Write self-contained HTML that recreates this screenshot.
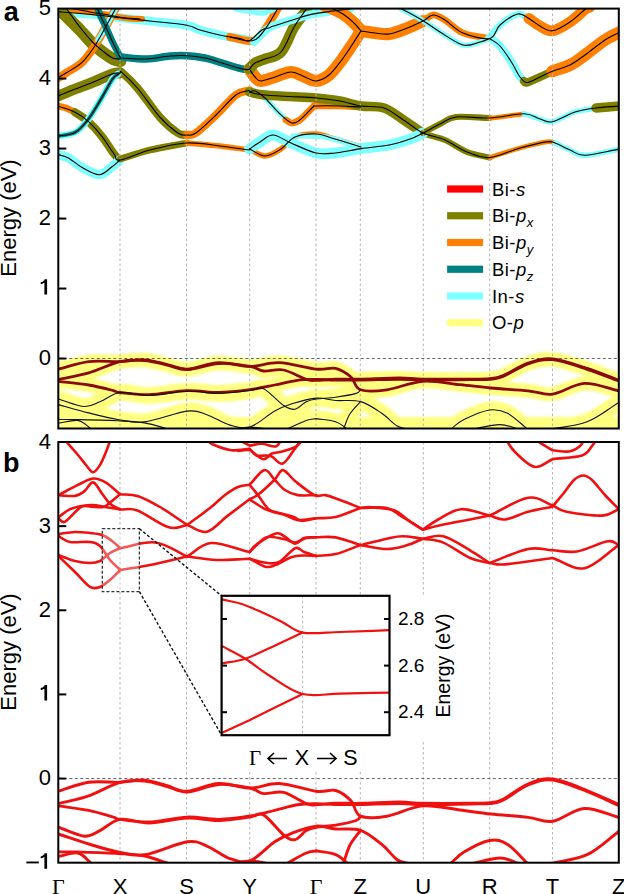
<!DOCTYPE html><html><head><meta charset="utf-8"><style>
html,body{margin:0;padding:0;background:#fff;width:624px;height:894px;overflow:hidden}
svg{display:block}
.t{font-family:"Liberation Sans",sans-serif;font-size:22px;fill:#000}
.g{font-family:"Liberation Serif",serif;font-size:22px}
.lab{font-family:"Liberation Sans",sans-serif;font-size:27px;font-weight:bold;fill:#000}
.ax{font-family:"Liberation Sans",sans-serif;font-size:22px;fill:#000}
.lg{font-family:"Liberation Sans",sans-serif;font-size:18.5px;letter-spacing:0.45px;fill:#000}
.i{font-style:italic}
.sub{font-size:13px}
.it{font-family:"Liberation Sans",sans-serif;font-size:19px;fill:#000}
.iax{font-family:"Liberation Sans",sans-serif;font-size:19.5px;fill:#000}
.iax2{font-family:"Liberation Sans",sans-serif;font-size:21.5px;fill:#000}
.ig{font-family:"Liberation Serif",serif;font-size:21px;fill:#000}
</style></head><body><svg width="624" height="894" viewBox="0 0 624 894">

<defs>
<clipPath id="ca"><rect x="58.3" y="8.6" width="560.5" height="419.9"/></clipPath>
<clipPath id="cb"><rect x="58.3" y="442.0" width="560.5" height="420.70000000000005"/></clipPath>
<clipPath id="ci"><rect x="221.6" y="595.8" width="167.9" height="139.4"/></clipPath>
<filter id="yb" x="-5%" y="-20%" width="110%" height="140%"><feGaussianBlur stdDeviation="1.2"/></filter>
</defs>
<line x1="120.0" y1="442.0" x2="120.0" y2="862.7" stroke="#b4b4b4" stroke-width="1" stroke-dasharray="2.5,2.5"/>
<line x1="186.5" y1="442.0" x2="186.5" y2="862.7" stroke="#b4b4b4" stroke-width="1" stroke-dasharray="2.5,2.5"/>
<line x1="249.7" y1="442.0" x2="249.7" y2="862.7" stroke="#b4b4b4" stroke-width="1" stroke-dasharray="2.5,2.5"/>
<line x1="316.0" y1="442.0" x2="316.0" y2="862.7" stroke="#b4b4b4" stroke-width="1" stroke-dasharray="2.5,2.5"/>
<line x1="360.3" y1="442.0" x2="360.3" y2="862.7" stroke="#b4b4b4" stroke-width="1" stroke-dasharray="2.5,2.5"/>
<line x1="423.3" y1="442.0" x2="423.3" y2="862.7" stroke="#b4b4b4" stroke-width="1" stroke-dasharray="2.5,2.5"/>
<line x1="489.7" y1="442.0" x2="489.7" y2="862.7" stroke="#b4b4b4" stroke-width="1" stroke-dasharray="2.5,2.5"/>
<line x1="552.5" y1="442.0" x2="552.5" y2="862.7" stroke="#b4b4b4" stroke-width="1" stroke-dasharray="2.5,2.5"/>
<line x1="58.3" y1="778.5600000000001" x2="618.8" y2="778.5600000000001" stroke="#666" stroke-width="1" stroke-dasharray="3,2.5"/>
<g clip-path="url(#ca)"><g filter="url(#yb)"><rect x="53.3" y="417" width="570.5" height="16" fill="#ffff80"/><path d="M58.3,369.1 C68.4,366.6 78.4,362.9 88.7,361.6 C99.0,360.4 110.7,361.9 120.0,361.6 C129.3,361.3 136.8,359.3 144.7,359.8 C152.6,360.3 160.1,362.9 167.2,364.5 C174.3,366.0 178.6,369.4 187.2,369.1 C195.8,368.8 208.2,363.1 218.7,362.6 C229.2,362.2 239.9,366.4 250.0,366.4 C260.1,366.4 268.1,362.2 279.2,362.6 C290.2,363.1 306.9,368.1 316.3,369.1 C325.7,370.1 329.8,367.1 335.6,368.4 C341.4,369.8 346.9,373.5 351.0,377.0 C355.1,380.6 354.5,387.7 360.5,389.8 C366.5,392.0 376.5,391.3 386.9,389.8 C397.3,388.4 410.6,382.1 422.8,381.3 C435.0,380.4 448.6,383.5 460.0,384.7 C471.4,385.8 479.6,387.0 491.0,388.0 C502.4,389.0 517.9,389.8 528.1,390.8 C538.4,391.8 543.1,395.3 552.5,394.1 C561.9,392.8 573.5,384.0 584.5,383.4 C595.5,382.9 607.4,388.4 618.8,390.8" fill="none" stroke="#ffff80" stroke-width="14" stroke-linecap="round" stroke-linejoin="round"/><path d="M58.3,379.4 C68.4,377.2 78.4,375.8 88.7,372.9 C99.0,369.9 110.7,363.7 120.0,361.6 C129.3,359.6 136.8,360.0 144.7,360.5 C152.6,361.1 160.1,363.6 167.2,365.1 C174.3,366.6 178.6,370.0 187.2,369.7 C195.8,369.4 208.2,364.0 218.7,363.5 C229.2,362.9 242.5,365.1 250.0,366.4 C257.5,367.6 257.9,370.4 263.5,371.0 C269.1,371.6 276.6,368.6 283.7,370.0 C290.8,371.4 300.8,377.7 306.2,379.4 C311.6,381.1 311.4,380.4 316.3,380.3 C321.2,380.3 328.2,379.3 335.6,379.1 C343.0,378.9 349.8,379.3 360.5,379.1 C371.2,378.9 389.3,378.0 399.7,378.0 C410.1,378.0 411.1,378.9 422.8,379.1 C434.5,379.3 458.9,379.2 470.0,379.1 C481.1,379.0 484.2,379.2 489.6,378.7 C495.0,378.2 496.1,378.5 502.5,375.9 C508.9,373.3 519.8,366.0 528.1,363.1 C536.4,360.3 542.7,358.0 552.5,358.9 C562.3,359.8 576.1,364.9 587.1,368.4 C598.1,372.0 608.2,376.3 618.8,380.2" fill="none" stroke="#ffff80" stroke-width="14" stroke-linecap="round" stroke-linejoin="round"/><path d="M58.3,381.3 C68.4,382.5 79.5,383.4 88.7,385.0 C97.9,386.6 108.1,389.3 113.3,390.6 C118.5,391.8 114.0,391.8 120.0,392.5 C126.0,393.2 138.0,395.0 149.2,394.6 C160.4,394.3 175.6,390.9 187.2,390.6 C198.8,390.2 208.2,392.6 218.7,392.5 C229.2,392.3 240.7,390.9 250.0,389.7 C259.3,388.4 266.8,386.6 274.7,385.0 C282.6,383.4 290.3,381.3 297.2,380.3 C304.1,379.4 309.9,379.5 316.3,379.4 C322.7,379.4 328.2,380.0 335.6,380.1 C343.0,380.2 349.8,380.2 360.5,380.1 C371.2,380.0 389.3,379.3 399.7,379.3 C410.1,379.3 411.1,380.0 422.8,380.1 C434.5,380.2 458.9,379.8 470.0,379.7 C481.1,379.5 484.2,379.7 489.6,379.3 C495.0,378.8 496.1,379.3 502.5,376.8 C508.9,374.2 519.8,366.7 528.1,363.9 C536.4,361.0 542.7,358.8 552.5,359.7 C562.3,360.6 576.1,365.7 587.1,369.3 C598.1,372.8 608.2,377.1 618.8,381.0" fill="none" stroke="#ffff80" stroke-width="14" stroke-linecap="round" stroke-linejoin="round"/><path d="M58.3,399.0 C66.9,401.5 77.3,406.0 84.2,406.5 C91.1,406.9 93.9,404.1 99.9,401.8 C105.9,399.5 111.8,393.5 120.0,392.5 C128.2,391.4 138.0,395.7 149.2,395.5 C160.4,395.3 175.6,391.7 187.2,391.3 C198.8,391.0 208.2,393.5 218.7,393.4 C229.2,393.3 242.5,391.3 250.0,390.5 C257.5,389.7 257.9,386.2 263.5,388.7 C269.1,391.2 278.4,402.0 283.7,405.5 C288.9,408.9 291.2,409.9 295.0,409.3 C298.8,408.7 302.6,403.5 306.2,401.8 C309.8,400.1 311.4,399.7 316.3,399.0 C321.2,398.2 329.0,398.2 335.6,397.2 C342.2,396.3 352.1,394.6 356.2,393.4 C360.3,392.2 359.1,391.0 360.5,389.8" fill="none" stroke="#ffff80" stroke-width="17" stroke-linecap="round" stroke-linejoin="round"/><path d="M58.3,404.6 C68.4,407.4 78.8,410.5 88.7,412.9 C98.6,415.4 108.5,418.0 117.8,419.5 C127.1,421.0 133.1,423.3 144.7,421.9 C156.3,420.5 176.8,412.3 187.2,411.1 C197.6,409.9 200.3,412.5 207.4,414.9 C214.5,417.2 222.8,423.1 229.9,425.1 C237.0,427.1 242.5,429.3 250.0,427.0 C257.5,424.7 267.6,415.0 274.7,411.1 C281.8,407.2 285.8,405.8 292.7,403.6 C299.6,401.5 309.1,398.6 316.3,398.1 C323.5,397.5 328.2,399.9 335.6,400.5 C343.0,401.1 352.8,399.4 360.5,401.6 C368.2,403.7 375.7,409.2 381.8,413.3 C387.9,417.4 392.5,423.3 397.2,426.0 C401.9,428.7 405.7,428.4 410.0,429.6" fill="none" stroke="#ffff80" stroke-width="17" stroke-linecap="round" stroke-linejoin="round"/><path d="M58.3,419.5 C64.7,419.5 67.5,419.4 77.4,419.6 C87.3,419.8 106.6,420.3 117.8,420.8 C129.0,421.4 136.0,421.5 144.7,422.9 C153.4,424.4 161.6,427.4 170.0,429.6" fill="none" stroke="#ffff80" stroke-width="17" stroke-linecap="round" stroke-linejoin="round"/><path d="M58.3,423.3 C64.7,422.3 72.3,419.8 77.4,420.4 C82.5,421.1 86.3,425.2 88.7,427.0 C91.1,428.8 90.9,429.8 92.0,431.2" fill="none" stroke="#ffff80" stroke-width="17" stroke-linecap="round" stroke-linejoin="round"/><path d="M343.3,429.6 C345.5,424.3 347.1,418.4 350.0,413.8 C352.9,409.1 357.0,405.6 360.5,401.6" fill="none" stroke="#ffff80" stroke-width="17" stroke-linecap="round" stroke-linejoin="round"/><path d="M316.3,418.6 C322.7,419.7 330.2,419.9 335.6,421.8 C341.0,423.6 344.2,427.0 348.5,429.6" fill="none" stroke="#ffff80" stroke-width="17" stroke-linecap="round" stroke-linejoin="round"/><path d="M286.0,429.6 C292.7,426.5 301.1,422.3 306.2,420.4 C311.2,418.6 312.9,419.2 316.3,418.6" fill="none" stroke="#ffff80" stroke-width="17" stroke-linecap="round" stroke-linejoin="round"/><path d="M450.0,429.6 C454.7,426.3 457.4,422.9 464.0,419.6 C470.6,416.3 482.3,411.1 489.6,410.0 C496.9,409.0 501.2,410.0 507.6,413.3 C514.0,416.5 521.3,424.1 528.1,429.6" fill="none" stroke="#ffff80" stroke-width="17" stroke-linecap="round" stroke-linejoin="round"/><path d="M548.6,429.6 C561.4,427.0 575.4,426.3 587.1,421.8 C598.8,417.3 608.2,409.0 618.8,402.5" fill="none" stroke="#ffff80" stroke-width="17" stroke-linecap="round" stroke-linejoin="round"/><path d="M470.0,429.6 C480.0,427.9 491.7,424.6 500.0,424.6 C508.3,424.6 513.3,427.9 520.0,429.6" fill="none" stroke="#ffff80" stroke-width="17" stroke-linecap="round" stroke-linejoin="round"/><path d="M230.0,429.6 C236.7,428.7 243.3,427.1 250.0,427.1 C256.7,427.1 263.3,428.7 270.0,429.6" fill="none" stroke="#ffff80" stroke-width="17" stroke-linecap="round" stroke-linejoin="round"/></g><path d="M56.0,11.5 C64.2,12.2 72.2,12.8 80.6,13.5 C89.0,14.2 99.7,15.3 106.3,16.0 C112.9,16.7 112.7,17.0 120.0,17.8 C127.3,18.6 138.9,19.8 150.0,21.0 C161.1,22.2 178.5,23.7 186.8,25.2 C195.1,26.7 194.1,28.3 200.0,30.0 C205.9,31.7 215.3,34.1 222.0,35.5 C228.7,36.9 235.4,37.7 240.0,38.5 C244.6,39.3 246.4,39.8 249.6,40.5" fill="none" stroke="#80ffff" stroke-width="8.775" stroke-linecap="round" stroke-linejoin="round"/><path d="M72.0,9.5 C78.0,10.3 84.3,11.2 90.0,12.0 C95.7,12.8 101.0,13.6 106.3,14.5 C111.6,15.4 116.9,16.8 121.7,17.5 C126.5,18.2 131.6,18.8 135.0,19.0 C138.4,19.2 139.7,19.0 142.0,19.0" fill="none" stroke="#ff8000" stroke-width="6.075" stroke-linecap="round" stroke-linejoin="round"/><path d="M64.0,14.0 C64.8,14.8 63.7,13.7 66.5,16.5 C69.3,19.3 76.1,25.9 80.6,30.6 C85.1,35.3 89.6,41.0 93.5,44.7 C97.4,48.4 100.8,50.6 104.0,53.0 C107.2,55.4 110.0,57.5 112.7,58.8 C115.4,60.1 117.8,60.3 120.4,61.0" fill="none" stroke="#808000" stroke-width="12.15" stroke-linecap="round" stroke-linejoin="round"/><path d="M56.0,79.5 C59.3,77.3 61.7,75.8 66.0,73.0 C70.3,70.2 77.2,66.9 81.8,62.7 C86.4,58.5 89.8,53.4 93.5,48.0 C97.2,42.6 101.0,35.4 103.7,30.6 C106.5,25.8 108.0,22.8 110.0,19.0 C112.0,15.2 114.0,11.7 116.0,8.0" fill="none" stroke="#ff8000" stroke-width="8.100000000000001" stroke-linecap="round" stroke-linejoin="round"/><path d="M98.0,40.0 C99.9,36.9 101.7,34.1 103.7,30.6 C105.7,27.1 108.0,22.8 110.0,19.0 C112.0,15.2 114.0,11.7 116.0,8.0" fill="none" stroke="#80ffff" stroke-width="5.4" stroke-linecap="round" stroke-linejoin="round"/><path d="M97.3,8.0 C98.5,11.0 99.5,13.7 101.0,17.0 C102.5,20.3 104.3,23.8 106.3,28.0 C108.2,32.2 110.3,37.4 112.7,42.2 C115.1,47.0 117.8,52.1 120.4,57.0" fill="none" stroke="#008080" stroke-width="6.75" stroke-linecap="round" stroke-linejoin="round"/><path d="M120.4,57.0 C128.9,57.7 137.7,59.2 146.0,59.0 C154.3,58.8 163.2,56.5 170.0,56.0 C176.8,55.5 181.2,55.4 187.0,55.7 C192.8,56.0 199.8,57.0 205.0,58.0 C210.2,59.0 211.8,59.9 218.0,61.7 C224.2,63.5 236.7,67.6 242.0,68.9 C247.3,70.2 247.1,69.3 249.6,69.5" fill="none" stroke="#80ffff" stroke-width="6.75" stroke-linecap="round" stroke-linejoin="round"/><path d="M120.4,57.0 C128.9,57.7 137.7,59.2 146.0,59.0 C154.3,58.8 163.2,56.5 170.0,56.0 C176.8,55.5 181.2,55.4 187.0,55.7 C192.8,56.0 199.8,57.0 205.0,58.0 C210.2,59.0 211.8,59.9 218.0,61.7 C224.2,63.5 236.7,67.6 242.0,68.9 C247.3,70.2 247.1,69.3 249.6,69.5" fill="none" stroke="#008080" stroke-width="7.425000000000001" stroke-linecap="round" stroke-linejoin="round"/><path d="M56.0,97.0 C60.7,95.0 64.6,93.2 70.0,91.0 C75.4,88.8 82.7,86.4 88.5,84.1 C94.3,81.8 100.8,78.8 105.0,77.0 C109.2,75.2 111.5,74.1 114.0,73.4 C116.5,72.7 118.0,73.1 120.0,73.0" fill="none" stroke="#808000" stroke-width="10.8" stroke-linecap="round" stroke-linejoin="round"/><path d="M120.0,73.0 C120.6,72.8 118.8,69.8 121.7,72.3 C124.6,74.8 131.0,80.5 137.4,88.0 C143.8,95.5 153.2,109.7 159.9,117.2 C166.6,124.7 173.3,130.0 177.8,133.0 C182.3,136.0 183.8,134.3 186.8,135.0" fill="none" stroke="#808000" stroke-width="8.100000000000001" stroke-linecap="round" stroke-linejoin="round"/><path d="M186.8,135.0 C189.8,134.3 190.9,136.3 195.8,133.0 C200.7,129.7 209.3,121.4 216.0,115.0 C222.7,108.6 230.6,98.8 236.2,94.7 C241.8,90.6 245.1,91.8 249.6,90.3" fill="none" stroke="#ff8000" stroke-width="8.100000000000001" stroke-linecap="round" stroke-linejoin="round"/><path d="M56.0,105.6 C59.3,106.4 62.8,106.9 66.0,108.0 C69.2,109.1 72.1,110.9 75.1,112.3" fill="none" stroke="#ff8000" stroke-width="6.75" stroke-linecap="round" stroke-linejoin="round"/><path d="M75.1,112.3 C79.6,115.4 84.0,117.7 88.5,121.7 C93.0,125.7 97.7,131.0 101.9,136.4 C106.2,141.8 111.0,150.0 114.0,153.9 C117.0,157.8 118.0,158.0 120.0,160.0" fill="none" stroke="#808000" stroke-width="8.100000000000001" stroke-linecap="round" stroke-linejoin="round"/><path d="M56.0,136.4 C62.4,135.1 69.7,135.3 75.1,132.4 C80.5,129.5 84.0,124.8 88.5,119.0 C93.0,113.2 97.9,104.2 101.9,97.5 C105.9,90.8 110.0,82.7 112.7,78.8 C115.4,74.9 116.2,75.6 118.0,74.0" fill="none" stroke="#80ffff" stroke-width="6.75" stroke-linecap="round" stroke-linejoin="round"/><path d="M56.0,136.4 C62.4,135.1 69.7,135.3 75.1,132.4 C80.5,129.5 84.0,124.8 88.5,119.0 C93.0,113.2 97.9,104.2 101.9,97.5 C105.9,90.8 110.0,82.7 112.7,78.8 C115.4,74.9 116.2,75.6 118.0,74.0" fill="none" stroke="#008080" stroke-width="3.5100000000000002" stroke-linecap="round" stroke-linejoin="round"/><path d="M56.0,154.0 C60.1,155.3 64.1,155.7 68.4,157.9 C72.7,160.1 76.7,164.5 81.8,167.3 C86.9,170.1 94.4,174.7 99.3,174.7 C104.2,174.7 107.8,169.8 111.3,167.3 C114.8,164.9 117.1,162.4 120.0,160.0" fill="none" stroke="#80ffff" stroke-width="9.450000000000001" stroke-linecap="round" stroke-linejoin="round"/><path d="M120.0,159.0 C130.0,156.0 138.9,152.7 150.0,150.0 C161.1,147.3 174.5,145.3 186.8,143.0" fill="none" stroke="#808000" stroke-width="6.75" stroke-linecap="round" stroke-linejoin="round"/><path d="M186.8,143.0 C197.9,144.0 209.5,144.8 220.0,146.0 C230.5,147.2 239.7,148.7 249.6,150.0" fill="none" stroke="#ff8000" stroke-width="5.4" stroke-linecap="round" stroke-linejoin="round"/><path d="M249.4,69.0 C251.3,71.7 253.1,75.0 255.0,77.0 C256.9,79.0 257.7,81.0 261.0,81.0 C264.3,81.0 270.0,78.5 275.0,77.0 C280.0,75.5 286.0,72.0 291.0,72.0 C296.0,72.0 300.8,75.5 305.0,77.0 C309.2,78.5 312.1,81.3 316.1,81.0 C320.1,80.7 324.9,78.3 329.0,75.0 C333.1,71.7 337.2,66.0 341.0,61.0 C344.8,56.0 348.7,50.0 352.0,45.0 C355.3,40.0 358.0,35.7 361.0,31.0 C365.7,31.7 370.3,32.5 375.0,33.0 C379.7,33.5 384.0,34.7 389.0,34.0 C394.0,33.3 399.3,31.2 405.0,29.0 C410.7,26.8 417.0,23.7 423.0,21.0" fill="none" stroke="#ff8000" stroke-width="12.15" stroke-linecap="round" stroke-linejoin="round"/><path d="M405.0,29.0 C411.0,26.3 418.3,23.3 423.0,21.0 C427.7,18.7 429.3,15.2 433.0,15.0 C436.7,14.8 440.0,17.0 445.0,20.0 C450.0,23.0 455.6,29.9 463.0,33.0 C470.4,36.1 480.7,36.7 489.6,38.5" fill="none" stroke="#ff8000" stroke-width="6.75" stroke-linecap="round" stroke-linejoin="round"/><path d="M249.4,69.0 C251.3,67.0 252.4,64.7 255.0,63.0 C257.6,61.3 260.7,60.8 265.0,59.0 C269.3,57.2 276.1,57.3 281.0,52.0 C285.9,46.7 289.8,34.0 294.1,27.0 C298.4,20.0 302.7,15.5 307.0,9.8" fill="none" stroke="#808000" stroke-width="10.8" stroke-linecap="round" stroke-linejoin="round"/><path d="M230.0,37.0 C236.4,38.3 244.4,41.0 249.2,41.0 C254.0,41.0 255.6,39.8 258.8,37.0 C262.0,34.2 265.3,29.0 268.5,24.2 C271.7,19.4 274.8,13.4 278.0,8.0" fill="none" stroke="#ff8000" stroke-width="8.100000000000001" stroke-linecap="round" stroke-linejoin="round"/><path d="M254.0,41.9 C259.3,37.1 263.3,31.1 270.0,27.4 C276.7,23.6 287.4,21.5 294.1,19.4 C300.8,17.3 304.1,15.9 310.1,14.6 C316.1,13.3 323.4,12.3 330.0,11.4 C336.6,10.5 343.3,9.8 350.0,9.0" fill="none" stroke="#80ffff" stroke-width="8.100000000000001" stroke-linecap="round" stroke-linejoin="round"/><path d="M236.0,9.0 C244.7,10.3 255.5,13.0 262.0,13.0 C268.5,13.0 270.7,10.3 275.0,9.0" fill="none" stroke="#80ffff" stroke-width="5.4" stroke-linecap="round" stroke-linejoin="round"/><path d="M249.4,92.0 C251.3,91.7 252.4,90.0 255.0,91.0 C257.6,92.0 261.0,94.3 265.0,98.0 C269.0,101.7 274.5,108.8 279.0,113.0 C283.5,117.2 288.3,122.0 292.0,123.0 C295.7,124.0 297.5,121.7 301.0,119.0 C304.5,116.3 310.5,109.2 313.0,107.0 C315.5,104.8 311.6,106.2 316.1,106.0 C320.6,105.8 332.5,105.8 340.0,106.0 C347.5,106.2 354.0,106.7 361.0,107.0" fill="none" stroke="#80ffff" stroke-width="5.4" stroke-linecap="round" stroke-linejoin="round"/><path d="M286.0,120.0 C288.0,121.0 289.5,123.2 292.0,123.0 C294.5,122.8 297.5,121.7 301.0,119.0 C304.5,116.3 310.5,109.2 313.0,107.0 C315.5,104.8 311.6,106.2 316.1,106.0 C320.6,105.8 332.5,105.8 340.0,106.0 C347.5,106.2 354.0,106.7 361.0,107.0" fill="none" stroke="#ff8000" stroke-width="6.75" stroke-linecap="round" stroke-linejoin="round"/><path d="M249.4,92.0 C253.6,92.9 255.2,94.0 262.0,94.7 C268.8,95.5 280.9,96.0 290.0,96.5 C299.1,97.0 308.0,97.2 316.3,98.0 C324.6,98.8 332.6,99.7 340.0,101.0 C347.4,102.3 353.7,104.8 361.0,106.0 C368.3,107.2 376.7,105.5 384.0,108.0 C391.3,110.5 398.5,116.8 405.0,121.0 C411.5,125.2 417.0,129.0 423.0,133.0" fill="none" stroke="#808000" stroke-width="9.450000000000001" stroke-linecap="round" stroke-linejoin="round"/><path d="M405.0,121.0 C411.0,125.0 416.3,129.8 423.0,133.0 C429.7,136.2 437.7,136.8 445.0,140.0 C452.3,143.2 459.6,149.1 467.0,152.0 C474.4,154.9 482.1,155.7 489.6,157.6" fill="none" stroke="#808000" stroke-width="6.075" stroke-linecap="round" stroke-linejoin="round"/><path d="M249.4,149.0 C254.6,151.3 259.7,156.0 265.0,156.0 C270.3,156.0 276.0,152.2 281.0,149.0 C286.0,145.8 289.1,139.5 295.0,137.0 C300.9,134.5 309.4,133.7 316.1,134.0 C322.8,134.3 327.5,136.8 335.0,139.0 C342.5,141.2 352.3,144.3 361.0,147.0" fill="none" stroke="#ff8000" stroke-width="5.4" stroke-linecap="round" stroke-linejoin="round"/><path d="M249.4,149.0 C252.9,146.7 256.1,144.3 260.0,142.0 C263.9,139.7 267.8,134.8 273.0,135.0 C278.2,135.2 283.8,140.0 291.0,143.0 C298.2,146.0 308.7,151.3 316.0,153.0 C323.3,154.7 327.5,153.7 335.0,153.0 C342.5,152.3 352.0,149.9 361.0,148.6 C370.0,147.3 380.8,146.6 389.0,145.0 C397.2,143.4 404.3,141.0 410.0,139.0 C415.7,137.0 418.7,135.0 423.0,133.0" fill="none" stroke="#80ffff" stroke-width="10.8" stroke-linecap="round" stroke-linejoin="round"/><path d="M293.0,136.0 C303.7,136.3 313.7,135.2 325.0,137.0 C336.3,138.8 349.0,143.7 361.0,147.0" fill="none" stroke="#80ffff" stroke-width="5.4" stroke-linecap="round" stroke-linejoin="round"/><path d="M423.0,133.0 C428.7,130.0 434.5,126.7 440.0,124.0 C445.5,121.3 447.7,118.0 456.0,117.0 C464.3,116.0 478.4,117.7 489.6,118.0" fill="none" stroke="#808000" stroke-width="6.075" stroke-linecap="round" stroke-linejoin="round"/><path d="M361.0,31.0 C358.7,28.3 357.0,25.8 354.0,23.0 C351.0,20.2 346.5,16.3 343.0,14.0 C339.5,11.7 336.0,10.3 333.0,9.0 C330.0,7.7 327.7,7.0 325.0,6.0" fill="none" stroke="#ff8000" stroke-width="12.15" stroke-linecap="round" stroke-linejoin="round"/><path d="M400.0,8.0 C407.7,12.2 416.3,16.7 423.0,20.7 C429.7,24.7 433.3,27.9 440.0,32.0 C446.7,36.0 456.3,43.3 463.0,45.0 C469.7,46.7 475.6,43.1 480.0,42.0 C484.4,40.9 486.4,39.7 489.6,38.5" fill="none" stroke="#80ffff" stroke-width="5.4" stroke-linecap="round" stroke-linejoin="round"/><path d="M489.6,37.5 C493.1,33.3 495.3,28.9 500.0,25.0 C504.7,21.1 512.9,15.1 517.7,14.0 C522.5,12.9 525.2,17.0 528.9,18.5" fill="none" stroke="#80ffff" stroke-width="6.75" stroke-linecap="round" stroke-linejoin="round"/><path d="M528.9,18.5 C532.6,21.0 536.1,23.9 540.0,26.0 C543.9,28.1 547.4,31.5 552.4,30.8 C557.4,30.1 564.6,25.6 570.0,22.0 C575.4,18.4 581.7,12.0 585.0,9.5 C588.3,7.0 588.3,7.8 590.0,7.0" fill="none" stroke="#ff8000" stroke-width="10.8" stroke-linecap="round" stroke-linejoin="round"/><path d="M489.6,37.5 C493.1,40.3 496.3,41.8 500.0,46.0 C503.7,50.2 508.7,57.8 512.0,63.0 C515.3,68.2 517.5,73.8 520.0,77.0 C522.5,80.2 524.7,80.7 527.0,82.5" fill="none" stroke="#80ffff" stroke-width="8.100000000000001" stroke-linecap="round" stroke-linejoin="round"/><path d="M524.0,81.0 C525.0,81.5 524.3,83.2 527.0,82.5 C529.7,81.8 535.8,78.9 540.0,77.0 C544.2,75.1 548.3,73.1 552.4,71.2" fill="none" stroke="#808000" stroke-width="8.100000000000001" stroke-linecap="round" stroke-linejoin="round"/><path d="M552.4,71.2 C558.3,69.1 564.6,67.7 570.0,65.0 C575.4,62.3 579.2,59.2 585.0,55.0 C590.8,50.8 599.2,43.8 605.0,40.0 C610.8,36.2 615.0,34.7 620.0,32.0" fill="none" stroke="#ff8000" stroke-width="12.15" stroke-linecap="round" stroke-linejoin="round"/><path d="M489.6,118.3 C501.1,116.8 512.5,115.3 524.0,113.8" fill="none" stroke="#ff8000" stroke-width="4.7250000000000005" stroke-linecap="round" stroke-linejoin="round"/><path d="M524.0,113.8 C529.3,115.5 535.3,117.7 540.0,119.0 C544.7,120.3 546.6,122.9 552.4,121.7 C558.2,120.5 567.7,114.3 575.0,112.0 C582.3,109.7 589.0,109.3 596.0,108.0" fill="none" stroke="#80ffff" stroke-width="5.4" stroke-linecap="round" stroke-linejoin="round"/><path d="M596.0,108.0 C604.0,107.3 612.0,106.7 620.0,106.0" fill="none" stroke="#808000" stroke-width="9.450000000000001" stroke-linecap="round" stroke-linejoin="round"/><path d="M489.6,157.6 C499.7,154.4 510.5,150.6 520.0,148.0 C529.5,145.4 541.0,142.7 546.8,141.9 C552.6,141.1 552.3,142.6 555.0,143.0" fill="none" stroke="#ff8000" stroke-width="4.7250000000000005" stroke-linecap="round" stroke-linejoin="round"/><path d="M555.0,143.0 C560.0,145.3 565.0,147.9 570.0,150.0 C575.0,152.1 576.7,155.5 585.0,155.3 C593.3,155.1 608.3,151.1 620.0,149.0" fill="none" stroke="#80ffff" stroke-width="5.4" stroke-linecap="round" stroke-linejoin="round"/><line x1="120.0" y1="8.6" x2="120.0" y2="428.5" stroke="#b4b4b4" stroke-width="1" stroke-dasharray="2.5,2.5"/><line x1="186.5" y1="8.6" x2="186.5" y2="428.5" stroke="#b4b4b4" stroke-width="1" stroke-dasharray="2.5,2.5"/><line x1="249.7" y1="8.6" x2="249.7" y2="428.5" stroke="#b4b4b4" stroke-width="1" stroke-dasharray="2.5,2.5"/><line x1="316.0" y1="8.6" x2="316.0" y2="428.5" stroke="#b4b4b4" stroke-width="1" stroke-dasharray="2.5,2.5"/><line x1="360.3" y1="8.6" x2="360.3" y2="428.5" stroke="#b4b4b4" stroke-width="1" stroke-dasharray="2.5,2.5"/><line x1="423.3" y1="8.6" x2="423.3" y2="428.5" stroke="#b4b4b4" stroke-width="1" stroke-dasharray="2.5,2.5"/><line x1="489.7" y1="8.6" x2="489.7" y2="428.5" stroke="#b4b4b4" stroke-width="1" stroke-dasharray="2.5,2.5"/><line x1="552.5" y1="8.6" x2="552.5" y2="428.5" stroke="#b4b4b4" stroke-width="1" stroke-dasharray="2.5,2.5"/><line x1="58.3" y1="358.5166666666667" x2="618.8" y2="358.5166666666667" stroke="#666" stroke-width="1" stroke-dasharray="3,2.5"/><path d="M56.0,11.5 C64.2,12.2 72.2,12.8 80.6,13.5 C89.0,14.2 99.7,15.3 106.3,16.0 C112.9,16.7 112.7,17.0 120.0,17.8 C127.3,18.6 138.9,19.8 150.0,21.0 C161.1,22.2 178.5,23.7 186.8,25.2 C195.1,26.7 194.1,28.3 200.0,30.0 C205.9,31.7 215.3,34.1 222.0,35.5 C228.7,36.9 235.4,37.7 240.0,38.5 C244.6,39.3 245.9,41.9 249.6,40.5 C253.3,39.1 258.6,32.2 262.0,30.0 C265.4,27.8 264.6,29.2 270.0,27.4 C275.4,25.6 287.4,21.5 294.1,19.4 C300.8,17.3 304.1,15.9 310.1,14.6 C316.1,13.3 323.4,12.3 330.0,11.4 C336.6,10.5 343.3,9.8 350.0,9.0" fill="none" stroke="#000" stroke-width="1.1" stroke-linecap="round" stroke-linejoin="round"/><path d="M70.0,8.0 C76.7,9.3 84.0,10.9 90.0,12.0 C96.0,13.1 101.0,13.6 106.3,14.5 C111.6,15.4 116.1,16.8 121.7,17.5 C127.3,18.2 133.9,18.5 140.0,19.0" fill="none" stroke="#000" stroke-width="1.1" stroke-linecap="round" stroke-linejoin="round"/><path d="M66.0,8.0 C70.9,14.7 76.0,22.2 80.6,28.0 C85.2,33.8 89.6,39.0 93.5,43.0 C97.4,47.0 100.8,49.5 104.0,52.0 C107.2,54.5 110.0,56.8 112.7,58.0 C115.4,59.2 117.8,58.7 120.4,59.0" fill="none" stroke="#000" stroke-width="1.1" stroke-linecap="round" stroke-linejoin="round"/><path d="M56.0,79.0 C59.3,77.0 61.7,75.7 66.0,73.0 C70.3,70.3 77.2,66.9 81.8,62.7 C86.4,58.5 89.8,53.4 93.5,48.0 C97.2,42.6 101.0,35.4 103.7,30.6 C106.5,25.8 108.0,22.8 110.0,19.0 C112.0,15.2 114.0,11.7 116.0,8.0" fill="none" stroke="#000" stroke-width="1.1" stroke-linecap="round" stroke-linejoin="round"/><path d="M97.3,8.0 C98.5,11.0 99.5,13.7 101.0,17.0 C102.5,20.3 104.3,23.8 106.3,28.0 C108.2,32.2 110.3,37.2 112.7,42.2 C115.1,47.2 117.8,52.7 120.4,58.0 C128.9,58.3 137.7,59.3 146.0,59.0 C154.3,58.7 163.2,56.5 170.0,56.0 C176.8,55.5 181.2,55.4 187.0,55.7 C192.8,56.0 199.8,57.0 205.0,58.0 C210.2,59.0 211.8,59.9 218.0,61.7 C224.2,63.5 236.7,67.6 242.0,68.9 C247.3,70.2 247.1,69.3 249.6,69.5" fill="none" stroke="#000" stroke-width="1.1" stroke-linecap="round" stroke-linejoin="round"/><path d="M56.0,97.0 C60.7,95.0 64.6,93.2 70.0,91.0 C75.4,88.8 82.7,86.4 88.5,84.1 C94.3,81.8 100.8,78.8 105.0,77.0 C109.2,75.2 111.5,74.1 114.0,73.4 C116.5,72.7 118.7,73.2 120.0,73.0 C121.3,72.8 118.8,69.8 121.7,72.3 C124.6,74.8 131.0,80.5 137.4,88.0 C143.8,95.5 153.2,109.7 159.9,117.2 C166.6,124.7 173.3,130.0 177.8,133.0 C182.3,136.0 183.8,135.0 186.8,135.0 C189.8,135.0 190.9,136.3 195.8,133.0 C200.7,129.7 209.3,121.4 216.0,115.0 C222.7,108.6 230.6,98.8 236.2,94.7 C241.8,90.6 245.1,91.8 249.6,90.3" fill="none" stroke="#000" stroke-width="1.1" stroke-linecap="round" stroke-linejoin="round"/><path d="M56.0,105.6 C62.4,107.8 69.7,109.6 75.1,112.3 C80.5,115.0 84.0,117.7 88.5,121.7 C93.0,125.7 97.7,131.0 101.9,136.4 C106.2,141.8 111.0,150.0 114.0,153.9 C117.0,157.8 114.0,160.7 120.0,160.0 C126.0,159.3 138.9,152.8 150.0,150.0 C161.1,147.2 175.1,143.7 186.8,143.0 C198.5,142.3 209.5,144.8 220.0,146.0 C230.5,147.2 239.7,148.7 249.6,150.0" fill="none" stroke="#000" stroke-width="1.1" stroke-linecap="round" stroke-linejoin="round"/><path d="M56.0,136.4 C62.4,135.1 69.7,135.3 75.1,132.4 C80.5,129.5 84.0,124.8 88.5,119.0 C93.0,113.2 97.9,104.2 101.9,97.5 C105.9,90.8 109.7,82.9 112.7,78.8 C115.7,74.7 117.6,74.9 120.0,73.0" fill="none" stroke="#000" stroke-width="1.1" stroke-linecap="round" stroke-linejoin="round"/><path d="M56.0,154.0 C60.1,155.3 64.1,155.7 68.4,157.9 C72.7,160.1 76.7,164.5 81.8,167.3 C86.9,170.1 94.4,174.7 99.3,174.7 C104.2,174.7 107.8,169.8 111.3,167.3 C114.8,164.9 117.1,162.4 120.0,160.0" fill="none" stroke="#000" stroke-width="1.1" stroke-linecap="round" stroke-linejoin="round"/><path d="M249.4,69.0 C251.3,71.7 253.1,75.0 255.0,77.0 C256.9,79.0 257.7,81.0 261.0,81.0 C264.3,81.0 270.0,78.5 275.0,77.0 C280.0,75.5 286.0,72.0 291.0,72.0 C296.0,72.0 300.8,75.5 305.0,77.0 C309.2,78.5 312.1,81.3 316.1,81.0 C320.1,80.7 324.9,78.3 329.0,75.0 C333.1,71.7 337.2,66.0 341.0,61.0 C344.8,56.0 348.7,50.0 352.0,45.0 C355.3,40.0 358.0,35.7 361.0,31.0 C365.7,31.7 370.3,32.5 375.0,33.0 C379.7,33.5 384.0,34.7 389.0,34.0 C394.0,33.3 399.3,31.2 405.0,29.0 C410.7,26.8 418.3,23.3 423.0,21.0 C427.7,18.7 429.3,15.2 433.0,15.0 C436.7,14.8 440.0,17.0 445.0,20.0 C450.0,23.0 455.6,29.9 463.0,33.0 C470.4,36.1 483.4,39.8 489.6,38.5 C495.8,37.2 495.3,29.1 500.0,25.0 C504.7,20.9 512.9,15.1 517.7,14.0 C522.5,12.9 525.2,16.5 528.9,18.5 C532.6,20.5 536.1,23.9 540.0,26.0 C543.9,28.1 547.4,31.5 552.4,30.8 C557.4,30.1 564.6,25.6 570.0,22.0 C575.4,18.4 581.7,12.0 585.0,9.5 C588.3,7.0 588.3,7.8 590.0,7.0" fill="none" stroke="#000" stroke-width="1.1" stroke-linecap="round" stroke-linejoin="round"/><path d="M249.4,69.0 C251.3,67.0 252.4,64.7 255.0,63.0 C257.6,61.3 260.7,60.8 265.0,59.0 C269.3,57.2 276.1,57.3 281.0,52.0 C285.9,46.7 289.8,34.3 294.1,27.0 C298.4,19.7 302.7,14.3 307.0,8.0" fill="none" stroke="#000" stroke-width="1.1" stroke-linecap="round" stroke-linejoin="round"/><path d="M230.0,37.0 C236.4,38.3 244.4,41.0 249.2,41.0 C254.0,41.0 255.6,39.8 258.8,37.0 C262.0,34.2 265.3,29.0 268.5,24.2 C271.7,19.4 274.8,13.4 278.0,8.0" fill="none" stroke="#000" stroke-width="1.1" stroke-linecap="round" stroke-linejoin="round"/><path d="M361.0,31.0 C358.7,28.3 357.0,25.8 354.0,23.0 C351.0,20.2 346.5,16.3 343.0,14.0 C339.5,11.7 336.0,10.3 333.0,9.0 C330.0,7.7 327.7,7.0 325.0,6.0" fill="none" stroke="#000" stroke-width="1.1" stroke-linecap="round" stroke-linejoin="round"/><path d="M249.4,92.0 C251.3,91.7 252.4,90.0 255.0,91.0 C257.6,92.0 261.0,94.3 265.0,98.0 C269.0,101.7 274.5,108.8 279.0,113.0 C283.5,117.2 288.3,122.0 292.0,123.0 C295.7,124.0 297.5,121.7 301.0,119.0 C304.5,116.3 310.5,109.2 313.0,107.0 C315.5,104.8 311.6,106.2 316.1,106.0 C320.6,105.8 332.5,105.8 340.0,106.0 C347.5,106.2 354.0,106.7 361.0,107.0" fill="none" stroke="#000" stroke-width="1.1" stroke-linecap="round" stroke-linejoin="round"/><path d="M249.4,92.0 C253.6,92.9 255.2,94.0 262.0,94.7 C268.8,95.5 280.9,96.0 290.0,96.5 C299.1,97.0 308.0,97.2 316.3,98.0 C324.6,98.8 332.6,99.7 340.0,101.0 C347.4,102.3 353.7,104.8 361.0,106.0 C368.3,107.2 376.7,105.5 384.0,108.0 C391.3,110.5 398.5,116.8 405.0,121.0 C411.5,125.2 416.3,129.8 423.0,133.0 C429.7,136.2 437.7,136.8 445.0,140.0 C452.3,143.2 459.6,149.1 467.0,152.0 C474.4,154.9 480.8,158.3 489.6,157.6 C498.4,156.9 510.5,150.6 520.0,148.0 C529.5,145.4 541.0,142.7 546.8,141.9 C552.6,141.1 551.1,141.7 555.0,143.0 C558.9,144.3 565.0,147.9 570.0,150.0 C575.0,152.1 576.7,155.5 585.0,155.3 C593.3,155.1 608.3,151.1 620.0,149.0" fill="none" stroke="#000" stroke-width="1.1" stroke-linecap="round" stroke-linejoin="round"/><path d="M249.4,149.0 C254.6,151.3 259.7,156.0 265.0,156.0 C270.3,156.0 276.0,152.2 281.0,149.0 C286.0,145.8 289.1,139.5 295.0,137.0 C300.9,134.5 309.4,133.7 316.1,134.0 C322.8,134.3 327.5,136.8 335.0,139.0 C342.5,141.2 352.3,144.3 361.0,147.0" fill="none" stroke="#000" stroke-width="1.1" stroke-linecap="round" stroke-linejoin="round"/><path d="M249.4,149.0 C252.9,146.7 256.1,144.3 260.0,142.0 C263.9,139.7 267.8,134.8 273.0,135.0 C278.2,135.2 283.8,140.0 291.0,143.0 C298.2,146.0 308.7,151.3 316.0,153.0 C323.3,154.7 327.5,153.7 335.0,153.0 C342.5,152.3 352.0,149.9 361.0,148.6 C370.0,147.3 380.8,146.6 389.0,145.0 C397.2,143.4 404.3,141.0 410.0,139.0 C415.7,137.0 418.0,135.5 423.0,133.0 C428.0,130.5 434.5,126.7 440.0,124.0 C445.5,121.3 447.7,118.0 456.0,117.0 C464.3,116.0 478.3,118.5 489.6,118.0 C500.9,117.5 515.6,113.6 524.0,113.8 C532.4,114.0 535.3,117.7 540.0,119.0 C544.7,120.3 546.6,122.9 552.4,121.7 C558.2,120.5 567.7,114.3 575.0,112.0 C582.3,109.7 588.5,109.0 596.0,108.0 C603.5,107.0 612.0,106.7 620.0,106.0" fill="none" stroke="#000" stroke-width="1.1" stroke-linecap="round" stroke-linejoin="round"/><path d="M400.0,8.0 C407.7,12.2 416.3,16.7 423.0,20.7 C429.7,24.7 433.3,27.9 440.0,32.0 C446.7,36.0 456.3,43.3 463.0,45.0 C469.7,46.7 475.6,43.1 480.0,42.0 C484.4,40.9 486.4,39.7 489.6,38.5 C493.1,41.0 496.3,41.9 500.0,46.0 C503.7,50.1 508.7,57.8 512.0,63.0 C515.3,68.2 517.5,73.8 520.0,77.0 C522.5,80.2 523.7,82.5 527.0,82.5 C530.3,82.5 535.8,78.9 540.0,77.0 C544.2,75.1 547.4,73.2 552.4,71.2 C557.4,69.2 564.6,67.7 570.0,65.0 C575.4,62.3 579.2,59.2 585.0,55.0 C590.8,50.8 599.2,43.8 605.0,40.0 C610.8,36.2 615.0,34.7 620.0,32.0" fill="none" stroke="#000" stroke-width="1.1" stroke-linecap="round" stroke-linejoin="round"/><path d="M58.3,369.1 C68.4,366.6 78.4,362.9 88.7,361.6 C99.0,360.4 110.7,361.9 120.0,361.6 C129.3,361.3 136.8,359.3 144.7,359.8 C152.6,360.3 160.1,362.9 167.2,364.5 C174.3,366.0 178.6,369.4 187.2,369.1 C195.8,368.8 208.2,363.1 218.7,362.6 C229.2,362.2 239.9,366.4 250.0,366.4 C260.1,366.4 268.1,362.2 279.2,362.6 C290.2,363.1 306.9,368.1 316.3,369.1 C325.7,370.1 329.8,367.1 335.6,368.4 C341.4,369.8 346.9,373.5 351.0,377.0 C355.1,380.6 354.5,387.7 360.5,389.8 C366.5,392.0 376.5,391.3 386.9,389.8 C397.3,388.4 410.6,382.1 422.8,381.3 C435.0,380.4 448.6,383.5 460.0,384.7 C471.4,385.8 479.6,387.0 491.0,388.0 C502.4,389.0 517.9,389.8 528.1,390.8 C538.4,391.8 543.1,395.3 552.5,394.1 C561.9,392.8 573.5,384.0 584.5,383.4 C595.5,382.9 607.4,388.4 618.8,390.8" fill="none" stroke="#8c0a0a" stroke-width="2.8" stroke-linecap="round" stroke-linejoin="round"/><path d="M58.3,379.4 C68.4,377.2 78.4,375.8 88.7,372.9 C99.0,369.9 110.7,363.7 120.0,361.6 C129.3,359.6 136.8,360.0 144.7,360.5 C152.6,361.1 160.1,363.6 167.2,365.1 C174.3,366.6 178.6,370.0 187.2,369.7 C195.8,369.4 208.2,364.0 218.7,363.5 C229.2,362.9 242.5,365.1 250.0,366.4 C257.5,367.6 257.9,370.4 263.5,371.0 C269.1,371.6 276.6,368.6 283.7,370.0 C290.8,371.4 300.8,377.7 306.2,379.4 C311.6,381.1 311.4,380.4 316.3,380.3 C321.2,380.3 328.2,379.3 335.6,379.1 C343.0,378.9 349.8,379.3 360.5,379.1 C371.2,378.9 389.3,378.0 399.7,378.0 C410.1,378.0 411.1,378.9 422.8,379.1 C434.5,379.3 458.9,379.2 470.0,379.1 C481.1,379.0 484.2,379.2 489.6,378.7 C495.0,378.2 496.1,378.5 502.5,375.9 C508.9,373.3 519.8,366.0 528.1,363.1 C536.4,360.3 542.7,358.0 552.5,358.9 C562.3,359.8 576.1,364.9 587.1,368.4 C598.1,372.0 608.2,376.3 618.8,380.2" fill="none" stroke="#8c0a0a" stroke-width="2.8" stroke-linecap="round" stroke-linejoin="round"/><path d="M58.3,381.3 C68.4,382.5 79.5,383.4 88.7,385.0 C97.9,386.6 108.1,389.3 113.3,390.6 C118.5,391.8 114.0,391.8 120.0,392.5 C126.0,393.2 138.0,395.0 149.2,394.6 C160.4,394.3 175.6,390.9 187.2,390.6 C198.8,390.2 208.2,392.6 218.7,392.5 C229.2,392.3 240.7,390.9 250.0,389.7 C259.3,388.4 266.8,386.6 274.7,385.0 C282.6,383.4 290.3,381.3 297.2,380.3 C304.1,379.4 309.9,379.5 316.3,379.4 C322.7,379.4 328.2,380.0 335.6,380.1 C343.0,380.2 349.8,380.2 360.5,380.1 C371.2,380.0 389.3,379.3 399.7,379.3 C410.1,379.3 411.1,380.0 422.8,380.1 C434.5,380.2 458.9,379.8 470.0,379.7 C481.1,379.5 484.2,379.7 489.6,379.3 C495.0,378.8 496.1,379.3 502.5,376.8 C508.9,374.2 519.8,366.7 528.1,363.9 C536.4,361.0 542.7,358.8 552.5,359.7 C562.3,360.6 576.1,365.7 587.1,369.3 C598.1,372.8 608.2,377.1 618.8,381.0" fill="none" stroke="#8c0a0a" stroke-width="2.8" stroke-linecap="round" stroke-linejoin="round"/><path d="M58.3,399.0 C66.9,401.5 77.3,406.0 84.2,406.5 C91.1,406.9 93.9,404.1 99.9,401.8 C105.9,399.5 111.8,393.5 120.0,392.5 C128.2,391.4 138.0,395.7 149.2,395.5 C160.4,395.3 175.6,391.7 187.2,391.3 C198.8,391.0 208.2,393.5 218.7,393.4 C229.2,393.3 242.5,391.3 250.0,390.5 C257.5,389.7 257.9,386.2 263.5,388.7 C269.1,391.2 278.4,402.0 283.7,405.5 C288.9,408.9 291.2,409.9 295.0,409.3 C298.8,408.7 302.6,403.5 306.2,401.8 C309.8,400.1 311.4,399.7 316.3,399.0 C321.2,398.2 329.0,398.2 335.6,397.2 C342.2,396.3 352.1,394.6 356.2,393.4 C360.3,392.2 359.1,391.0 360.5,389.8" fill="none" stroke="#111" stroke-width="1.1" stroke-linecap="round" stroke-linejoin="round"/><path d="M58.3,404.6 C68.4,407.4 78.8,410.5 88.7,412.9 C98.6,415.4 108.5,418.0 117.8,419.5 C127.1,421.0 133.1,423.3 144.7,421.9 C156.3,420.5 176.8,412.3 187.2,411.1 C197.6,409.9 200.3,412.5 207.4,414.9 C214.5,417.2 222.8,423.1 229.9,425.1 C237.0,427.1 242.5,429.3 250.0,427.0 C257.5,424.7 267.6,415.0 274.7,411.1 C281.8,407.2 285.8,405.8 292.7,403.6 C299.6,401.5 309.1,398.6 316.3,398.1 C323.5,397.5 328.2,399.9 335.6,400.5 C343.0,401.1 352.8,399.4 360.5,401.6 C368.2,403.7 375.7,409.2 381.8,413.3 C387.9,417.4 392.5,423.3 397.2,426.0 C401.9,428.7 405.7,428.4 410.0,429.6" fill="none" stroke="#111" stroke-width="1.1" stroke-linecap="round" stroke-linejoin="round"/><path d="M58.3,419.5 C64.7,419.5 67.5,419.4 77.4,419.6 C87.3,419.8 106.6,420.3 117.8,420.8 C129.0,421.4 136.0,421.5 144.7,422.9 C153.4,424.4 161.6,427.4 170.0,429.6" fill="none" stroke="#111" stroke-width="1.1" stroke-linecap="round" stroke-linejoin="round"/><path d="M58.3,423.3 C64.7,422.3 72.3,419.8 77.4,420.4 C82.5,421.1 86.3,425.2 88.7,427.0 C91.1,428.8 90.9,429.8 92.0,431.2" fill="none" stroke="#111" stroke-width="1.1" stroke-linecap="round" stroke-linejoin="round"/><path d="M343.3,429.6 C345.5,424.3 347.1,418.4 350.0,413.8 C352.9,409.1 357.0,405.6 360.5,401.6" fill="none" stroke="#111" stroke-width="1.1" stroke-linecap="round" stroke-linejoin="round"/><path d="M316.3,418.6 C322.7,419.7 330.2,419.9 335.6,421.8 C341.0,423.6 344.2,427.0 348.5,429.6" fill="none" stroke="#111" stroke-width="1.1" stroke-linecap="round" stroke-linejoin="round"/><path d="M286.0,429.6 C292.7,426.5 301.1,422.3 306.2,420.4 C311.2,418.6 312.9,419.2 316.3,418.6" fill="none" stroke="#111" stroke-width="1.1" stroke-linecap="round" stroke-linejoin="round"/><path d="M450.0,429.6 C454.7,426.3 457.4,422.9 464.0,419.6 C470.6,416.3 482.3,411.1 489.6,410.0 C496.9,409.0 501.2,410.0 507.6,413.3 C514.0,416.5 521.3,424.1 528.1,429.6" fill="none" stroke="#111" stroke-width="1.1" stroke-linecap="round" stroke-linejoin="round"/><path d="M548.6,429.6 C561.4,427.0 575.4,426.3 587.1,421.8 C598.8,417.3 608.2,409.0 618.8,402.5" fill="none" stroke="#111" stroke-width="1.1" stroke-linecap="round" stroke-linejoin="round"/><path d="M470.0,429.6 C480.0,427.9 491.7,424.6 500.0,424.6 C508.3,424.6 513.3,427.9 520.0,429.6" fill="none" stroke="#111" stroke-width="1.1" stroke-linecap="round" stroke-linejoin="round"/><path d="M230.0,429.6 C236.7,428.7 243.3,427.1 250.0,427.1 C256.7,427.1 263.3,428.7 270.0,429.6" fill="none" stroke="#111" stroke-width="1.1" stroke-linecap="round" stroke-linejoin="round"/></g>
<g clip-path="url(#cb)"><path d="M63.0,438.0 C68.0,443.7 74.2,450.5 78.0,455.0 C81.8,459.5 83.5,462.1 86.0,465.0 C88.5,467.9 90.7,472.3 93.0,472.3 C95.3,472.3 97.8,468.4 100.0,465.0 C102.2,461.6 104.2,456.5 106.0,452.0 C107.8,447.5 109.3,442.7 111.0,438.0" fill="none" stroke="#f01010" stroke-width="2.6" stroke-linecap="round" stroke-linejoin="round"/><path d="M58.3,495.3 C64.7,491.9 71.6,488.0 77.4,485.2 C83.2,482.4 88.4,479.0 93.1,478.5 C97.8,478.0 101.0,479.8 105.5,482.4 C110.0,485.0 115.2,490.3 120.1,494.2 C125.9,494.8 130.8,493.8 137.4,495.9 C144.1,498.0 151.7,502.1 160.0,507.0 C168.3,511.9 178.1,519.0 187.2,525.0 C193.8,527.3 200.3,533.3 207.0,531.8 C213.7,530.3 220.1,521.5 227.2,516.1 C234.3,510.7 242.1,504.9 249.6,499.3 C252.8,497.5 255.0,497.1 259.2,493.8 C263.4,490.5 270.6,483.6 274.6,479.7 C278.6,475.8 279.6,469.9 283.0,470.1 C286.4,470.3 289.8,476.8 295.0,481.0 C300.2,485.2 309.3,492.8 314.4,495.1 C319.5,497.5 321.1,494.3 325.4,495.1 C329.7,495.9 334.1,497.9 340.0,500.0 C345.9,502.1 353.7,505.3 360.5,508.0 C369.3,508.0 379.9,506.5 386.9,508.0 C393.9,509.5 396.3,513.4 402.3,517.0 C408.3,520.6 416.0,525.5 422.8,529.7 C427.9,526.3 431.8,522.9 438.2,519.5 C444.6,516.1 452.7,509.8 461.3,509.2 C469.9,508.6 480.2,513.5 489.6,515.6 C494.7,516.9 498.6,520.1 505.0,519.5 C511.4,518.9 520.2,513.9 528.1,511.8 C536.0,509.7 544.4,508.4 552.5,506.7 C556.0,502.5 559.4,498.4 563.0,494.0 C566.6,489.6 570.6,483.1 574.0,480.0 C577.4,476.9 580.5,475.5 583.5,475.5 C586.5,475.5 588.4,476.8 592.0,480.0 C595.6,483.2 600.5,490.1 605.0,495.0 C609.5,499.9 614.2,504.5 618.8,509.2" fill="none" stroke="#f01010" stroke-width="2.6" stroke-linecap="round" stroke-linejoin="round"/><path d="M58.3,495.3 C63.9,495.5 70.9,496.5 75.2,495.9 C79.5,495.2 81.2,493.6 84.2,491.4 C87.2,489.1 90.1,482.0 93.1,482.4 C96.1,482.8 99.3,490.1 102.1,493.7 C104.9,497.3 107.0,501.2 110.0,503.8 C113.0,506.4 116.7,507.5 120.1,509.4 C125.9,509.8 129.3,507.5 137.4,510.5 C145.5,513.5 160.5,524.9 168.8,527.3 C177.1,529.7 181.1,525.8 187.2,525.0 C194.8,519.3 203.7,513.0 210.0,508.0 C216.3,503.0 220.3,498.5 225.0,495.0 C229.7,491.5 233.9,488.7 238.0,487.0 C242.1,485.3 245.7,485.5 249.6,484.7 C254.5,479.8 260.2,470.9 264.4,470.1 C268.6,469.3 271.2,476.4 274.6,479.7 C278.0,483.0 281.0,487.4 284.9,490.0 C288.8,492.6 292.5,494.2 297.7,495.1 C302.9,496.0 310.1,495.1 316.3,495.1" fill="none" stroke="#f01010" stroke-width="2.6" stroke-linecap="round" stroke-linejoin="round"/><path d="M58.3,517.2 C62.1,514.6 65.7,511.3 69.6,509.4 C73.5,507.5 78.0,506.7 81.9,506.0 C85.8,505.3 89.2,504.8 93.0,505.0 C96.8,505.2 100.5,506.3 105.0,507.0 C109.5,507.7 115.1,508.6 120.1,509.4" fill="none" stroke="#f01010" stroke-width="2.6" stroke-linecap="round" stroke-linejoin="round"/><path d="M58.3,518.3 C60.6,519.4 61.3,523.6 65.1,521.7 C68.8,519.8 76.5,509.6 80.8,507.1 C85.1,504.6 87.2,506.6 90.9,506.6 C94.6,506.6 100.0,507.8 103.2,507.1 C106.4,506.4 107.2,504.8 110.0,502.6 C112.8,500.5 116.7,497.0 120.1,494.2" fill="none" stroke="#f01010" stroke-width="2.6" stroke-linecap="round" stroke-linejoin="round"/><path d="M249.6,484.7 C252.4,488.2 254.7,490.9 258.0,495.1 C261.3,499.3 265.0,506.6 269.5,509.9 C274.0,513.2 280.2,513.3 284.9,515.0 C289.6,516.7 292.5,519.6 297.7,520.1 C302.9,520.6 310.1,518.8 316.3,518.2 C322.7,517.8 328.2,518.7 335.6,517.0 C343.0,515.3 352.2,511.0 360.5,508.0 C364.2,507.7 365.8,506.8 371.5,507.2 C377.2,507.6 388.6,508.4 394.6,510.5 C400.6,512.5 402.7,516.3 407.4,519.5 C412.1,522.7 417.7,526.3 422.8,529.7 C429.6,528.0 435.4,526.3 443.3,524.6 C451.2,522.9 462.3,521.0 470.0,519.5 C477.7,518.0 483.1,516.9 489.6,515.6 C502.4,509.6 517.6,499.4 528.1,497.7 C538.6,496.0 544.4,502.8 552.5,505.4 C557.2,507.5 558.3,510.1 566.6,511.8 C574.9,513.5 593.8,516.0 602.5,515.6 C611.2,515.2 613.4,511.3 618.8,509.2" fill="none" stroke="#f01010" stroke-width="2.6" stroke-linecap="round" stroke-linejoin="round"/><path d="M249.6,499.3 C254.9,502.6 260.2,506.8 265.6,509.2 C271.1,511.6 277.6,512.4 282.3,513.7 C287.0,515.0 290.6,515.8 293.8,517.0 C297.0,518.2 297.8,520.6 301.5,520.8 C305.2,521.0 311.4,519.1 316.3,518.2" fill="none" stroke="#f01010" stroke-width="2.6" stroke-linecap="round" stroke-linejoin="round"/><path d="M58.3,534.0 C63.9,533.3 69.7,532.2 75.0,532.0 C80.3,531.8 85.5,532.5 90.0,533.0 C94.5,533.5 98.3,533.7 102.0,535.0 C105.7,536.3 109.0,538.8 112.0,541.0 C115.0,543.2 117.5,545.7 120.3,548.1 C132.0,546.2 144.2,541.1 155.4,542.5 C166.6,543.9 176.6,551.8 187.2,556.5 C196.8,557.7 205.6,559.6 216.0,560.0 C226.4,560.4 238.4,559.1 249.6,558.7 C254.9,561.4 261.2,565.8 265.6,566.8 C270.0,567.8 271.6,566.5 275.9,564.9 C280.2,563.3 286.6,558.8 291.3,557.2 C296.0,555.6 299.8,555.7 304.0,555.5 C308.2,555.3 312.2,555.8 316.3,555.9 C322.7,555.3 328.2,555.9 335.6,554.1 C343.0,552.3 352.2,548.1 360.5,545.1 C369.3,543.0 379.9,540.2 386.9,538.7 C393.9,537.2 396.3,536.2 402.3,536.2 C408.3,536.2 416.0,537.9 422.8,538.7 C429.6,537.9 435.4,534.3 443.3,536.2 C451.2,538.1 462.3,545.8 470.0,550.3 C477.7,554.8 483.1,558.8 489.6,563.0 C494.7,563.5 494.5,565.2 505.0,564.4 C515.5,563.6 536.7,560.1 552.5,558.0 C563.2,561.4 573.5,570.4 584.5,568.2 C595.5,566.1 607.4,552.8 618.8,545.1" fill="none" stroke="#f01010" stroke-width="2.6" stroke-linecap="round" stroke-linejoin="round"/><path d="M58.3,536.0 C62.2,538.0 64.7,541.0 70.0,542.0 C75.3,543.0 85.0,541.3 90.0,542.0 C95.0,542.7 96.7,543.0 100.0,546.0 C103.3,549.0 106.6,556.0 110.0,560.0 C113.4,564.0 116.9,566.7 120.3,570.0 C130.2,568.3 138.8,567.2 150.0,565.0 C161.2,562.8 174.8,559.3 187.2,556.5 C195.1,552.0 200.6,543.8 211.0,543.0 C221.4,542.2 236.7,549.0 249.6,552.0 C252.0,549.5 252.3,547.5 256.7,544.4 C261.1,541.3 271.2,534.8 275.9,533.5 C280.6,532.2 281.7,535.0 284.9,536.7 C288.1,538.4 291.9,543.5 295.1,543.7 C298.3,543.9 300.6,539.1 304.1,538.0 C307.6,536.9 312.2,537.5 316.3,537.3 C322.7,537.3 328.2,536.1 335.6,537.4 C343.0,538.7 352.2,542.5 360.5,545.1 C369.3,546.4 379.1,549.0 386.9,549.0 C394.7,549.0 401.4,546.8 407.4,545.1 C413.4,543.4 417.7,540.8 422.8,538.7 C429.6,540.0 435.4,539.4 443.3,542.6 C451.2,545.8 462.3,554.6 470.0,558.0 C477.7,561.4 483.1,561.3 489.6,563.0 C502.4,558.3 517.6,551.1 528.1,549.0 C538.6,546.9 544.4,549.9 552.5,550.3 C560.6,550.7 567.6,553.0 576.8,551.5 C586.0,550.0 600.6,542.4 607.6,541.3 C614.6,540.2 615.1,543.8 618.8,545.1" fill="none" stroke="#f01010" stroke-width="2.6" stroke-linecap="round" stroke-linejoin="round"/><path d="M58.3,555.0 C63.9,557.0 69.7,559.7 75.0,561.0 C80.3,562.3 85.8,563.0 90.0,563.0 C94.2,563.0 96.7,562.7 100.0,561.0 C103.3,559.3 106.6,555.1 110.0,553.0 C113.4,550.9 116.9,549.7 120.3,548.1" fill="none" stroke="#f01010" stroke-width="2.6" stroke-linecap="round" stroke-linejoin="round"/><path d="M58.3,556.0 C63.9,561.3 69.7,566.9 75.0,572.0 C80.3,577.1 85.8,584.3 90.0,586.8 C94.2,589.3 96.7,588.1 100.0,587.0 C103.3,585.9 106.6,582.8 110.0,580.0 C113.4,577.2 116.9,573.3 120.3,570.0" fill="none" stroke="#f01010" stroke-width="2.6" stroke-linecap="round" stroke-linejoin="round"/><path d="M249.6,552.0 C254.1,547.7 259.7,541.8 263.0,539.2 C266.3,536.7 265.9,536.7 269.5,536.7 C273.1,536.7 280.6,538.2 284.9,539.2 C289.2,540.2 291.6,542.7 295.1,542.5 C298.6,542.3 302.5,538.9 306.0,538.0 C309.5,537.1 312.9,537.5 316.3,537.3" fill="none" stroke="#f01010" stroke-width="2.6" stroke-linecap="round" stroke-linejoin="round"/><path d="M249.6,558.7 C254.1,559.9 258.2,561.7 263.0,562.3 C267.8,562.9 273.1,564.6 278.5,562.3 C283.9,559.9 290.8,549.9 295.1,548.2 C299.4,546.5 300.6,550.7 304.1,552.0 C307.6,553.3 312.2,554.6 316.3,555.9" fill="none" stroke="#f01010" stroke-width="2.6" stroke-linecap="round" stroke-linejoin="round"/><path d="M205.0,438.0 C207.3,440.0 207.6,442.0 212.0,444.0 C216.4,446.0 225.0,449.4 231.3,450.2 C237.6,451.0 243.6,449.3 249.7,448.9 C252.0,451.1 253.2,454.2 256.7,455.4 C260.2,456.6 266.5,454.6 270.8,456.0 C275.1,457.4 278.5,464.6 282.3,463.7 C286.1,462.8 290.5,454.6 293.8,450.3 C297.1,446.0 299.3,442.1 302.0,438.0" fill="none" stroke="#f01010" stroke-width="2.6" stroke-linecap="round" stroke-linejoin="round"/><path d="M235.0,438.0 C239.9,440.6 244.8,443.1 249.7,445.7 C253.7,445.1 257.4,443.7 261.8,443.8 C266.2,443.9 272.5,447.4 275.9,446.4 C279.3,445.4 280.0,440.8 282.0,438.0" fill="none" stroke="#f01010" stroke-width="2.6" stroke-linecap="round" stroke-linejoin="round"/><path d="M238.0,450.9 C241.9,450.5 245.8,450.0 249.7,449.6 C254.1,452.8 259.3,458.6 263.0,459.2 C266.7,459.8 268.8,454.8 272.0,453.5 C275.2,452.2 278.2,452.7 282.3,451.5 C286.4,450.3 292.8,448.6 296.4,446.4 C300.0,444.1 301.5,440.8 304.0,438.0" fill="none" stroke="#f01010" stroke-width="2.6" stroke-linecap="round" stroke-linejoin="round"/><path d="M505.0,438.0 C508.3,442.7 510.1,447.2 515.0,452.0 C519.9,456.8 528.2,465.7 534.5,466.9 C540.8,468.1 546.5,461.8 552.5,459.2 C562.3,457.9 575.4,457.6 582.0,455.4 C588.6,453.2 589.5,448.9 592.0,446.0 C594.5,443.1 595.3,440.7 597.0,438.0" fill="none" stroke="#f01010" stroke-width="2.6" stroke-linecap="round" stroke-linejoin="round"/><path d="M532.0,438.0 C538.8,442.1 545.7,446.2 552.5,450.3 C558.0,450.7 564.5,452.2 569.1,451.5 C573.7,450.8 577.4,448.2 580.0,446.0 C582.6,443.8 583.3,440.7 585.0,438.0" fill="none" stroke="#f01010" stroke-width="2.6" stroke-linecap="round" stroke-linejoin="round"/><path d="M58.3,791.3 C68.4,788.3 78.4,783.8 88.7,782.3 C99.0,780.8 110.7,782.7 120.0,782.3 C129.3,781.9 136.8,779.5 144.7,780.1 C152.6,780.7 160.1,783.8 167.2,785.7 C174.3,787.6 178.6,791.7 187.2,791.3 C195.8,790.9 208.2,784.0 218.7,783.5 C229.2,783.0 239.9,788.0 250.0,788.0 C260.1,788.0 268.1,783.0 279.2,783.5 C290.2,784.0 306.9,790.1 316.3,791.3 C325.7,792.5 329.8,788.9 335.6,790.5 C341.4,792.1 346.9,796.5 351.0,800.8 C355.1,805.1 354.5,813.6 360.5,816.2 C366.5,818.8 376.5,817.9 386.9,816.2 C397.3,814.5 410.6,806.9 422.8,805.9 C435.0,804.9 448.6,808.6 460.0,810.0 C471.4,811.4 479.6,812.8 491.0,814.0 C502.4,815.2 517.9,816.2 528.1,817.4 C538.4,818.6 543.1,822.8 552.5,821.3 C561.9,819.8 573.5,809.1 584.5,808.5 C595.5,807.9 607.4,814.4 618.8,817.4" fill="none" stroke="#f01010" stroke-width="2.9" stroke-linecap="round" stroke-linejoin="round"/><path d="M58.3,803.7 C68.4,801.1 78.4,799.4 88.7,795.8 C99.0,792.2 110.7,784.8 120.0,782.3 C129.3,779.8 136.8,780.3 144.7,781.0 C152.6,781.7 160.1,784.7 167.2,786.5 C174.3,788.3 178.6,792.3 187.2,792.0 C195.8,791.7 208.2,785.2 218.7,784.5 C229.2,783.8 242.5,786.5 250.0,788.0 C257.5,789.5 257.9,792.9 263.5,793.6 C269.1,794.3 276.6,790.7 283.7,792.4 C290.8,794.1 300.8,801.6 306.2,803.7 C311.6,805.8 311.4,804.9 316.3,804.8 C321.2,804.7 328.2,803.5 335.6,803.3 C343.0,803.0 349.8,803.5 360.5,803.3 C371.2,803.1 389.3,802.0 399.7,802.0 C410.1,802.0 411.1,803.1 422.8,803.3 C434.5,803.5 458.9,803.4 470.0,803.3 C481.1,803.2 484.2,803.4 489.6,802.8 C495.0,802.2 496.1,802.6 502.5,799.5 C508.9,796.4 519.8,787.5 528.1,784.1 C536.4,780.7 542.7,777.9 552.5,779.0 C562.3,780.1 576.1,786.2 587.1,790.5 C598.1,794.8 608.2,799.9 618.8,804.6" fill="none" stroke="#f01010" stroke-width="2.9" stroke-linecap="round" stroke-linejoin="round"/><path d="M58.3,805.9 C68.4,807.4 79.5,808.5 88.7,810.4 C97.9,812.3 108.1,815.6 113.3,817.1 C118.5,818.6 114.0,818.6 120.0,819.4 C126.0,820.2 138.0,822.4 149.2,822.0 C160.4,821.6 175.6,817.5 187.2,817.1 C198.8,816.7 208.2,819.6 218.7,819.4 C229.2,819.2 240.7,817.5 250.0,816.0 C259.3,814.5 266.8,812.3 274.7,810.4 C282.6,808.5 290.3,805.9 297.2,804.8 C304.1,803.7 309.9,803.8 316.3,803.7 C322.7,803.7 328.2,804.4 335.6,804.5 C343.0,804.6 349.8,804.7 360.5,804.5 C371.2,804.3 389.3,803.5 399.7,803.5 C410.1,803.5 411.1,804.4 422.8,804.5 C434.5,804.6 458.9,804.2 470.0,804.0 C481.1,803.8 484.2,804.1 489.6,803.5 C495.0,802.9 496.1,803.6 502.5,800.5 C508.9,797.4 519.8,788.4 528.1,785.0 C536.4,781.6 542.7,778.9 552.5,780.0 C562.3,781.1 576.1,787.2 587.1,791.5 C598.1,795.8 608.2,800.9 618.8,805.6" fill="none" stroke="#f01010" stroke-width="2.9" stroke-linecap="round" stroke-linejoin="round"/><path d="M58.3,827.2 C66.9,830.2 77.3,835.6 84.2,836.2 C91.1,836.8 93.9,833.4 99.9,830.6 C105.9,827.8 111.8,820.7 120.0,819.4 C128.2,818.1 138.0,823.2 149.2,823.0 C160.4,822.8 175.6,818.4 187.2,818.0 C198.8,817.6 208.2,820.7 218.7,820.5 C229.2,820.3 242.5,817.9 250.0,817.0 C257.5,816.1 257.9,811.9 263.5,814.9 C269.1,817.9 278.4,830.9 283.7,835.0 C288.9,839.1 291.2,840.3 295.0,839.6 C298.8,838.9 302.6,832.7 306.2,830.6 C309.8,828.5 311.4,828.1 316.3,827.2 C321.2,826.3 329.0,826.2 335.6,825.1 C342.2,824.0 352.1,822.0 356.2,820.5 C360.3,819.0 359.1,817.6 360.5,816.2" fill="none" stroke="#f01010" stroke-width="2.9" stroke-linecap="round" stroke-linejoin="round"/><path d="M58.3,834.0 C68.4,837.3 78.8,841.0 88.7,844.0 C98.6,847.0 108.5,850.1 117.8,851.9 C127.1,853.7 133.1,856.5 144.7,854.8 C156.3,853.1 176.8,843.2 187.2,841.8 C197.6,840.4 200.3,843.5 207.4,846.3 C214.5,849.1 222.8,856.2 229.9,858.6 C237.0,861.0 242.5,863.7 250.0,860.9 C257.5,858.1 267.6,846.5 274.7,841.8 C281.8,837.1 285.8,835.4 292.7,832.8 C299.6,830.2 309.1,826.7 316.3,826.1 C323.5,825.5 328.2,828.3 335.6,829.0 C343.0,829.7 352.8,827.7 360.5,830.3 C368.2,832.9 375.7,839.5 381.8,844.4 C387.9,849.3 392.5,856.4 397.2,859.7 C401.9,863.0 405.7,862.6 410.0,864.0" fill="none" stroke="#f01010" stroke-width="2.9" stroke-linecap="round" stroke-linejoin="round"/><path d="M58.3,851.9 C64.7,851.9 67.5,851.7 77.4,852.0 C87.3,852.3 106.6,852.8 117.8,853.5 C129.0,854.2 136.0,854.2 144.7,856.0 C153.4,857.8 161.6,861.3 170.0,864.0" fill="none" stroke="#f01010" stroke-width="2.9" stroke-linecap="round" stroke-linejoin="round"/><path d="M58.3,856.4 C64.7,855.3 72.3,852.2 77.4,853.0 C82.5,853.8 86.3,858.7 88.7,860.9 C91.1,863.1 90.9,864.3 92.0,866.0" fill="none" stroke="#f01010" stroke-width="2.9" stroke-linecap="round" stroke-linejoin="round"/><path d="M343.3,864.0 C345.5,857.7 347.1,850.6 350.0,845.0 C352.9,839.4 357.0,835.2 360.5,830.3" fill="none" stroke="#f01010" stroke-width="2.9" stroke-linecap="round" stroke-linejoin="round"/><path d="M316.3,850.8 C322.7,852.1 330.2,852.4 335.6,854.6 C341.0,856.8 344.2,860.9 348.5,864.0" fill="none" stroke="#f01010" stroke-width="2.9" stroke-linecap="round" stroke-linejoin="round"/><path d="M286.0,864.0 C292.7,860.3 301.1,855.2 306.2,853.0 C311.2,850.8 312.9,851.5 316.3,850.8" fill="none" stroke="#f01010" stroke-width="2.9" stroke-linecap="round" stroke-linejoin="round"/><path d="M450.0,864.0 C454.7,860.0 457.4,855.9 464.0,852.0 C470.6,848.1 482.3,841.8 489.6,840.5 C496.9,839.2 501.2,840.5 507.6,844.4 C514.0,848.3 521.3,857.5 528.1,864.0" fill="none" stroke="#f01010" stroke-width="2.9" stroke-linecap="round" stroke-linejoin="round"/><path d="M548.6,864.0 C561.4,860.9 575.4,860.0 587.1,854.6 C598.8,849.2 608.2,839.2 618.8,831.5" fill="none" stroke="#f01010" stroke-width="2.9" stroke-linecap="round" stroke-linejoin="round"/><path d="M470.0,864.0 C480.0,862.0 491.7,858.0 500.0,858.0 C508.3,858.0 513.3,862.0 520.0,864.0" fill="none" stroke="#f01010" stroke-width="2.9" stroke-linecap="round" stroke-linejoin="round"/><path d="M230.0,864.0 C236.7,863.0 243.3,861.0 250.0,861.0 C256.7,861.0 263.3,863.0 270.0,864.0" fill="none" stroke="#f01010" stroke-width="2.9" stroke-linecap="round" stroke-linejoin="round"/></g>
<rect x="102.3" y="528.7" width="37.1" height="62.9" fill="#fff" fill-opacity="0.3"/>
<rect x="102.3" y="528.7" width="37.1" height="62.9" fill="none" stroke="#333" stroke-width="1.3" stroke-dasharray="3,2"/>
<line x1="139.4" y1="528.7" x2="221.6" y2="595.8" stroke="#111" stroke-width="1.4" stroke-dasharray="3,2"/>
<line x1="139.4" y1="591.6" x2="221.6" y2="735.2" stroke="#111" stroke-width="1.4" stroke-dasharray="3,2"/>
<rect x="58.3" y="8.6" width="560.5" height="419.9" fill="none" stroke="#000" stroke-width="2"/>
<rect x="58.3" y="442.0" width="560.5" height="420.70000000000005" fill="none" stroke="#000" stroke-width="2"/>
<line x1="58.3" y1="358.5166666666667" x2="66.3" y2="358.5166666666667" stroke="#000" stroke-width="2"/>
<text x="51" y="365.0166666666667" text-anchor="end" class="t">0</text>
<line x1="58.3" y1="288.53333333333336" x2="66.3" y2="288.53333333333336" stroke="#000" stroke-width="2"/>
<path transform="translate(0,288.53)" d="M44.4,-9.4 H47.1 V6 H44.4 Z M44.6,-9.4 C43.8,-7.2 42.4,-6.6 40.7,-6.3 V-4.4 C42.3,-4.6 43.6,-5.2 44.4,-6 Z" fill="#000"/>
<line x1="58.3" y1="218.54999999999995" x2="66.3" y2="218.54999999999995" stroke="#000" stroke-width="2"/>
<text x="51" y="225.04999999999995" text-anchor="end" class="t">2</text>
<line x1="58.3" y1="148.56666666666666" x2="66.3" y2="148.56666666666666" stroke="#000" stroke-width="2"/>
<text x="51" y="155.06666666666666" text-anchor="end" class="t">3</text>
<line x1="58.3" y1="78.58333333333333" x2="66.3" y2="78.58333333333333" stroke="#000" stroke-width="2"/>
<text x="51" y="85.08333333333333" text-anchor="end" class="t">4</text>
<text x="51" y="15.1" text-anchor="end" class="t">5</text>
<rect x="26.4" y="861.5" width="12.4" height="1.9" fill="#000"/>
<path transform="translate(0,862.70)" d="M44.4,-9.4 H47.1 V6 H44.4 Z M44.6,-9.4 C43.8,-7.2 42.4,-6.6 40.7,-6.3 V-4.4 C42.3,-4.6 43.6,-5.2 44.4,-6 Z" fill="#000"/>
<line x1="58.3" y1="778.5600000000001" x2="66.3" y2="778.5600000000001" stroke="#000" stroke-width="2"/>
<text x="51" y="785.0600000000001" text-anchor="end" class="t">0</text>
<line x1="58.3" y1="694.4200000000001" x2="66.3" y2="694.4200000000001" stroke="#000" stroke-width="2"/>
<path transform="translate(0,694.42)" d="M44.4,-9.4 H47.1 V6 H44.4 Z M44.6,-9.4 C43.8,-7.2 42.4,-6.6 40.7,-6.3 V-4.4 C42.3,-4.6 43.6,-5.2 44.4,-6 Z" fill="#000"/>
<line x1="58.3" y1="610.28" x2="66.3" y2="610.28" stroke="#000" stroke-width="2"/>
<text x="51" y="616.78" text-anchor="end" class="t">2</text>
<line x1="58.3" y1="526.14" x2="66.3" y2="526.14" stroke="#000" stroke-width="2"/>
<text x="51" y="532.64" text-anchor="end" class="t">3</text>
<text x="51" y="448.5" text-anchor="end" class="t">4</text>
<text x="58.3" y="893.5" text-anchor="middle" class="t g">Γ</text>
<text x="120.0" y="893.5" text-anchor="middle" class="t">X</text>
<text x="186.5" y="893.5" text-anchor="middle" class="t">S</text>
<text x="249.7" y="893.5" text-anchor="middle" class="t">Y</text>
<text x="316.0" y="893.5" text-anchor="middle" class="t g">Γ</text>
<text x="360.3" y="893.5" text-anchor="middle" class="t">Z</text>
<text x="423.3" y="893.5" text-anchor="middle" class="t">U</text>
<text x="489.7" y="893.5" text-anchor="middle" class="t">R</text>
<text x="552.5" y="893.5" text-anchor="middle" class="t">T</text>
<text x="618.8" y="893.5" text-anchor="middle" class="t">Z</text>
<text x="3.8" y="21.3" class="lab">a</text>
<text x="3" y="472.3" class="lab">b</text>
<text transform="translate(16.2,218) rotate(-90)" text-anchor="middle" class="ax">Energy (eV)</text>
<text transform="translate(16.2,652) rotate(-90)" text-anchor="middle" class="ax">Energy (eV)</text>
<rect x="447.1" y="185.4" width="36" height="7.2" fill="#ff0000"/>
<text x="492" y="195.6" class="lg">Bi-<tspan class="i">s</tspan></text>
<rect x="447.1" y="212.15" width="36" height="7.2" fill="#808000"/>
<text x="492" y="222.35" class="lg">Bi-<tspan class="i">p</tspan><tspan class="i sub" dy="5">x</tspan></text>
<rect x="447.1" y="238.9" width="36" height="7.2" fill="#ff8000"/>
<text x="492" y="249.1" class="lg">Bi-<tspan class="i">p</tspan><tspan class="i sub" dy="5">y</tspan></text>
<rect x="447.1" y="265.65" width="36" height="7.2" fill="#008080"/>
<text x="492" y="275.85" class="lg">Bi-<tspan class="i">p</tspan><tspan class="i sub" dy="5">z</tspan></text>
<rect x="447.1" y="292.4" width="36" height="7.2" fill="#80ffff"/>
<text x="492" y="302.6" class="lg">In-<tspan class="i">s</tspan></text>
<rect x="447.1" y="319.15" width="36" height="7.2" fill="#ffff80"/>
<text x="492" y="329.35" class="lg">O-<tspan class="i">p</tspan></text>
<rect x="221.6" y="595.8" width="240" height="144" fill="#fff"/>
<rect x="221.6" y="736" width="167.9" height="35" fill="#fff"/>
<g clip-path="url(#ci)"><rect x="221.6" y="595.8" width="167.9" height="139.4" fill="#fff"/><line x1="302.6" y1="595.8" x2="302.6" y2="735.2" stroke="#b4b4b4" stroke-width="1" stroke-dasharray="2.5,2.5"/><path d="M221.6,599.4 C227.7,600.8 233.9,601.6 240.0,603.5 C246.1,605.4 251.0,607.5 258.0,610.6 C265.0,613.7 274.7,618.2 282.1,621.9 C289.5,625.6 293.0,630.9 302.6,632.6 C312.2,634.3 325.5,632.4 340.0,632.0 C354.5,631.6 373.0,630.8 389.5,630.2" fill="none" stroke="#f01010" stroke-width="2.2" stroke-linecap="round" stroke-linejoin="round"/><path d="M221.6,645.9 C229.5,650.2 237.2,653.7 245.3,658.7 C253.4,663.7 260.4,670.1 270.0,676.0 C279.6,681.9 290.9,691.1 302.6,694.0 C314.3,696.9 325.5,693.8 340.0,693.6 C354.5,693.4 373.0,692.9 389.5,692.6" fill="none" stroke="#f01010" stroke-width="2.2" stroke-linecap="round" stroke-linejoin="round"/><path d="M221.6,663.5 C229.5,661.9 236.6,661.6 245.3,658.7 C254.1,655.8 264.6,650.2 274.1,645.9 C283.7,641.5 293.1,637.0 302.6,632.6" fill="none" stroke="#f01010" stroke-width="2.2" stroke-linecap="round" stroke-linejoin="round"/><path d="M221.6,733.0 C231.1,728.7 240.5,724.3 250.0,720.0 C259.3,715.3 269.2,710.3 278.0,706.0 C286.8,701.7 294.4,698.0 302.6,694.0" fill="none" stroke="#f01010" stroke-width="2.2" stroke-linecap="round" stroke-linejoin="round"/></g>
<rect x="221.6" y="595.8" width="167.9" height="139.4" fill="none" stroke="#000" stroke-width="2.2"/>
<line x1="221.6" y1="619.0" x2="227" y2="619.0" stroke="#000" stroke-width="2"/>
<line x1="384" y1="619.0" x2="389.5" y2="619.0" stroke="#000" stroke-width="2"/>
<text x="398" y="625.0" class="it">2.8</text>
<line x1="221.6" y1="665.5999999999999" x2="227" y2="665.5999999999999" stroke="#000" stroke-width="2"/>
<line x1="384" y1="665.5999999999999" x2="389.5" y2="665.5999999999999" stroke="#000" stroke-width="2"/>
<text x="398" y="671.5999999999999" class="it">2.6</text>
<line x1="221.6" y1="712.1999999999999" x2="227" y2="712.1999999999999" stroke="#000" stroke-width="2"/>
<line x1="384" y1="712.1999999999999" x2="389.5" y2="712.1999999999999" stroke="#000" stroke-width="2"/>
<text x="398" y="718.1999999999999" class="it">2.4</text>
<text transform="translate(450,665.5) rotate(-90)" text-anchor="middle" class="iax">Energy (eV)</text>
<text x="249" y="765" class="ig">Γ</text>
<text x="302" y="765" text-anchor="middle" class="iax2">X</text>
<text x="350.5" y="765" text-anchor="middle" class="iax2">S</text>
<path d="M287,758.5 H268 M274,753 L268,758.5 L274,764 M317,758.5 H336 M330,753 L336,758.5 L330,764" fill="none" stroke="#000" stroke-width="1.6"/>
</svg></body></html>
